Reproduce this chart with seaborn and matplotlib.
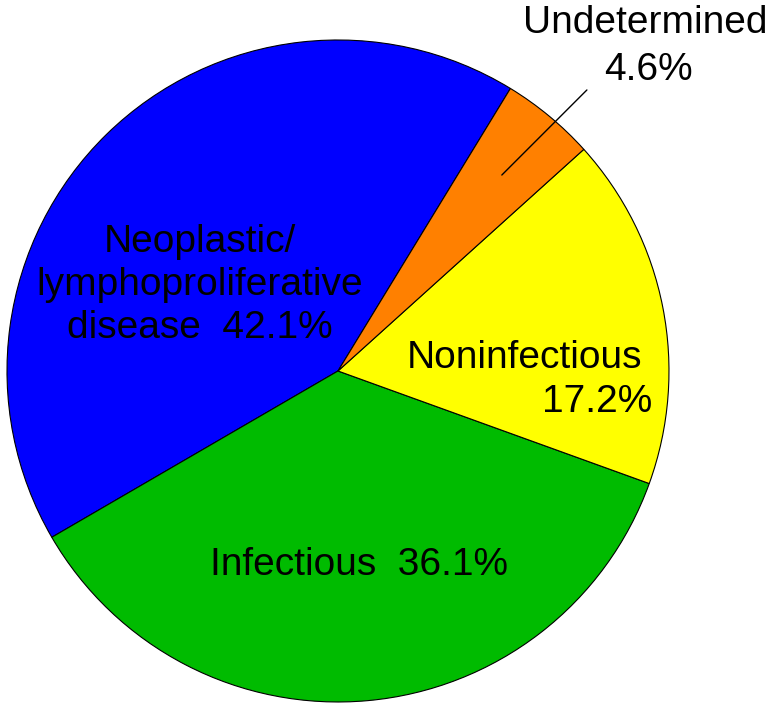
"""
Pie chart of diagnosis categories
"""
import matplotlib
matplotlib.use("Agg")
import seaborn as sns
import matplotlib.pyplot as plt

# Data
categories = ["Neoplastic/\nlymphoproliferative\ndisease", "Infectious",
              "Noninfectious", "Undetermined"]
shares = [42.1, 36.1, 17.2, 4.6]
colors = ["#0000FF", "#00BB00", "#FFFF00", "#FF8000"]

sns.set_theme(style="white")
plt.rcParams["font.family"] = ["Liberation Sans", "DejaVu Sans"]
plt.rcParams["text.color"] = "black"

#####################################################################
# Pie
#####################################################################
fig = plt.figure(figsize=(7.76, 7.09), dpi=100)
ax = fig.add_axes([0.009, 0.0099, 0.8531, 0.9337])
ax.pie(shares, colors=colors, startangle=58.6, counterclock=True,
       wedgeprops=dict(edgecolor="black", linewidth=0.8))
ax.set_xlim(-1, 1)
ax.set_ylim(-1, 1)
ax.set_aspect("equal")
ax.axis("off")

fs = 28
# baseline of the last line of the block
ax.text(-0.417, 0.100, f"{categories[0]}  {shares[0]}%", ha="center",
        va="baseline", fontsize=fs, multialignment="center", linespacing=1.25)
ax.text(0.063, -0.616, f"{categories[1]}  {shares[1]}%", ha="center",
        va="baseline", fontsize=fs)
ax.text(0.562, 0.009, categories[2], ha="center", va="baseline", fontsize=fs)
ax.text(0.782, -0.124, f"{shares[2]}%", ha="center", va="baseline",
        fontsize=fs)
ax.text(0.927, 1.021, categories[3], ha="center", va="baseline", fontsize=fs)
ax.text(0.937, 0.879, f"{shares[3]}%", ha="center", va="baseline",
        fontsize=fs)

# Leader line for the small slice
ax.plot([0.495, 0.752], [0.592, 0.849], color="black", linewidth=1,
        clip_on=False)

plt.savefig("out.png", dpi=100)
plt.close()
